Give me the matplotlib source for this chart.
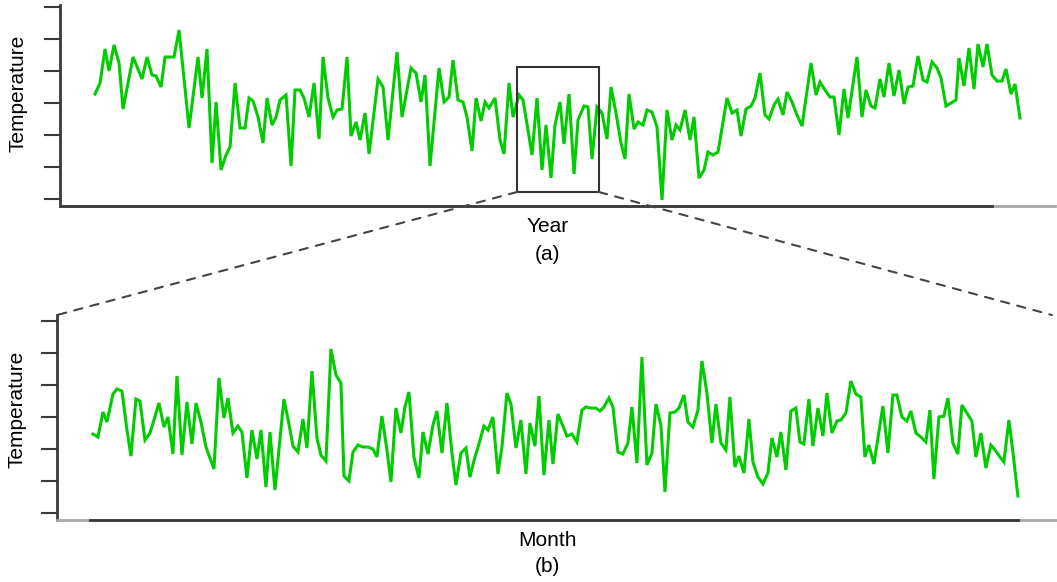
import numpy as np
import matplotlib
matplotlib.use("Agg")
import matplotlib.pyplot as plt
from matplotlib.patches import Rectangle, ConnectionPatch

plt.rcParams["font.family"] = ["Liberation Sans", "DejaVu Sans"]

# -----------------------------
# Yearly series (time step, temperature in arbitrary units)
# -----------------------------
year_t = [0, 5, 10, 14, 19, 24, 28, 38, 47, 52, 57, 61, 66, 70, 79, 84, 94, 103, 107, 112,
          117, 121, 126, 131, 135, 140, 145, 150, 154, 158, 163, 168, 172, 177, 181, 185, 191, 196, 200, 205,
          209, 214, 219, 224, 228, 233, 238, 242, 247, 252, 256, 261, 265, 270, 274, 283, 288, 293, 302, 307,
          316, 321, 326, 330, 335, 344, 349, 354, 358, 363, 368, 372, 377, 381, 386, 390, 394, 400, 405, 409,
          414, 418, 424, 428, 433, 437, 442, 447, 451, 456, 460, 465, 469, 474, 479, 483, 489, 493, 497, 502,
          507, 512, 516, 521, 526, 530, 534, 539, 543, 548, 552, 557, 562, 567, 572, 577, 581, 585, 590, 595,
          599, 604, 609, 613, 618, 623, 632, 637, 642, 646, 651, 656, 660, 665, 670, 674, 679, 683, 688, 692,
          697, 702, 707, 716, 721, 725, 730, 735, 739, 744, 749, 753, 762, 767, 771, 776, 780, 785, 789, 794,
          799, 804, 809, 813, 818, 823, 828, 832, 837, 842, 846, 851, 856, 861, 864, 869, 874, 879, 883, 888,
          892, 897, 902, 907, 911, 916, 920, 925]
year_temp = [105, 116, 150, 128, 154, 136, 90, 142, 120, 142, 124, 123, 112, 142, 142, 169, 71, 142, 101, 150,
             36, 97, 29, 44, 52, 116, 71, 71, 101, 98, 82, 56, 101, 74, 82, 99, 104, 33, 109, 109,
             101, 82, 116, 60, 142, 101, 82, 89, 90, 142, 63, 77, 59, 86, 45, 120, 112, 59, 147, 82,
             131, 126, 97, 124, 33, 131, 97, 102, 139, 99, 97, 82, 48, 101, 78, 97, 91, 101, 59, 45,
             116, 82, 104, 99, 69, 44, 101, 29, 74, 21, 74, 97, 55, 105, 25, 79, 93, 92, 40, 92,
             86, 60, 112, 86, 56, 40, 105, 70, 77, 74, 89, 87, 72, -1, 89, 59, 74, 69, 89, 59,
             82, 21, 29, 47, 44, 47, 101, 86, 89, 63, 90, 93, 101, 126, 84, 80, 94, 100, 84, 107,
             97, 84, 73, 136, 104, 117, 109, 102, 102, 64, 110, 81, 142, 82, 109, 93, 91, 120, 102, 136,
             103, 129, 95, 112, 113, 143, 119, 117, 137, 131, 121, 93, 96, 99, 141, 113, 151, 110, 155, 132,
             155, 124, 118, 118, 130, 105, 115, 81]

# -----------------------------
# Monthly series for the highlighted window
# -----------------------------
month_t = [0, 5, 10, 14, 20, 24, 29, 34, 38, 43, 47, 52, 57, 61, 66, 71, 75, 80, 84, 89,
           94, 99, 103, 108, 113, 117, 121, 126, 131, 135, 140, 145, 149, 154, 159, 164, 168, 173, 177, 182,
           191, 196, 200, 205, 210, 214, 219, 224, 228, 233, 238, 243, 248, 251, 256, 260, 265, 270, 275, 280,
           284, 289, 294, 298, 303, 308, 312, 316, 321, 326, 330, 335, 340, 344, 349, 354, 359, 363, 368, 373,
           377, 382, 386, 391, 395, 400, 405, 409, 414, 418, 423, 428, 433, 437, 442, 446, 451, 456, 460, 465,
           470, 474, 479, 484, 489, 493, 498, 503, 507, 511, 516, 520, 525, 530, 535, 539, 544, 549, 554, 559,
           563, 568, 572, 577, 582, 586, 591, 595, 600, 605, 609, 614, 619, 623, 628, 633, 637, 642, 646, 651,
           656, 660, 665, 670, 675, 679, 684, 688, 693, 698, 703, 707, 711, 716, 720, 725, 730, 734, 739, 744,
           748, 753, 758, 763, 768, 772, 776, 781, 786, 790, 795, 800, 804, 809, 814, 818, 823, 828, 833, 837,
           841, 846, 851, 855, 860, 865, 869, 874, 879, 883, 888, 893, 898, 903, 907, 911, 916, 920, 925]
month_temp = [79, 76, 101, 91, 119, 124, 122, 83, 57, 114, 112, 73, 80, 93, 110, 86, 96, 59, 137, 58,
              111, 69, 110, 91, 66, 55, 44, 135, 95, 115, 80, 87, 81, 35, 83, 54, 83, 26, 81, 23,
              114, 89, 67, 61, 94, 65, 142, 75, 58, 52, 164, 138, 130, 37, 32, 61, 68, 66, 66, 64,
              56, 97, 63, 31, 105, 80, 106, 121, 56, 35, 81, 59, 88, 102, 60, 110, 60, 28, 60, 65,
              36, 56, 69, 87, 83, 96, 39, 66, 120, 109, 65, 93, 39, 90, 67, 117, 38, 93, 49, 99,
              87, 77, 79, 71, 103, 106, 105, 105, 102, 106, 115, 106, 61, 59, 70, 106, 50, 156, 48, 60,
              109, 88, 21, 100, 101, 105, 118, 91, 86, 103, 152, 120, 70, 109, 70, 63, 116, 46, 57, 40,
              94, 51, 36, 29, 40, 75, 56, 81, 43, 102, 105, 71, 69, 114, 67, 105, 77, 120, 80, 92,
              93, 100, 132, 119, 116, 56, 68, 49, 81, 107, 60, 118, 118, 96, 92, 102, 80, 76, 71, 103,
              34, 96, 97, 115, 70, 59, 108, 100, 92, 56, 80, 45, 68, 62, 56, 51, 93, 61, 17]

# zoomed window on the yearly axis
win_t = (422, 504)
win_temp = (7, 132)

temp_ticks = np.arange(0, 193, 32)
green = "#00cc00"
axis_col = "#3a3a3a"

fig = plt.figure(figsize=(10.57, 5.82), dpi=100)
ax_top = fig.add_axes([0.0568, 0.646, 0.9413, 0.3454])
ax_bot = fig.add_axes([0.0539, 0.1065, 0.946, 0.3522])


def style_axis(ax, xlim, ylim, dark_span):
    ax.set_xlim(*xlim)
    ax.set_ylim(*ylim)
    for side in ["top", "right"]:
        ax.spines[side].set_visible(False)
    ax.spines["left"].set_color(axis_col)
    ax.spines["left"].set_linewidth(2.0)
    ax.spines["bottom"].set_color("#a8a8a8")
    ax.spines["bottom"].set_linewidth(2.0)
    # darker stretch of the baseline
    ax.axhline(ylim[0], xmin=dark_span[0], xmax=dark_span[1], color=axis_col,
               lw=2.0, clip_on=False, zorder=3)
    ax.set_yticks(temp_ticks)
    ax.set_yticklabels([])
    ax.set_xticks([])
    ax.tick_params(axis="y", direction="out", length=11.5, width=1.5, color=axis_col)


# -----------------------------
# (a) yearly temperature
# -----------------------------
ax_top.plot(year_t, year_temp, color=green, lw=2.2, solid_joinstyle="miter")
style_axis(ax_top, (-35, 960), (-7, 194), (0.0, 0.937))
ax_top.add_patch(Rectangle((win_t[0], win_temp[0]), win_t[1] - win_t[0], win_temp[1] - win_temp[0],
                           fill=False, edgecolor="#333333", lw=1.5, zorder=4))
ax_top.set_ylabel("Temperature", fontsize=15)
ax_top.yaxis.set_label_coords(-0.033, 0.56)
ax_top.set_xlabel("Year", fontsize=15)
ax_top.xaxis.set_label_coords(0.49, -0.0995)
ax_top.xaxis.label.set_va("center")
ax_top.text(0.49, -0.239, "(a)", transform=ax_top.transAxes, fontsize=15,
            ha="center", va="center")

# -----------------------------
# (b) monthly temperature
# -----------------------------
ax_bot.plot(month_t, month_temp, color=green, lw=2.2, solid_joinstyle="miter")
style_axis(ax_bot, (-36, 964), (-7, 198), (0.033, 0.961))
ax_bot.set_ylabel("Temperature", fontsize=15)
ax_bot.yaxis.set_label_coords(-0.030, 0.54)
ax_bot.set_xlabel("Month", fontsize=15)
ax_bot.xaxis.set_label_coords(0.491, -0.0976)
ax_bot.xaxis.label.set_va("center")
ax_bot.text(0.491, -0.229, "(b)", transform=ax_bot.transAxes, fontsize=15,
            ha="center", va="center")

# dashed guides from the window to the zoomed panel
for corner_t, corner_frac in [(win_t[0], (0, 1)), (win_t[1], (0.995, 1))]:
    con = ConnectionPatch(xyA=(corner_t, win_temp[0]), coordsA=ax_top.transData,
                          xyB=corner_frac, coordsB=ax_bot.transAxes,
                          color="#444444", lw=1.5, linestyle=(0, (4, 4)))
    fig.add_artist(con)

fig.savefig("out.png", dpi=100)
